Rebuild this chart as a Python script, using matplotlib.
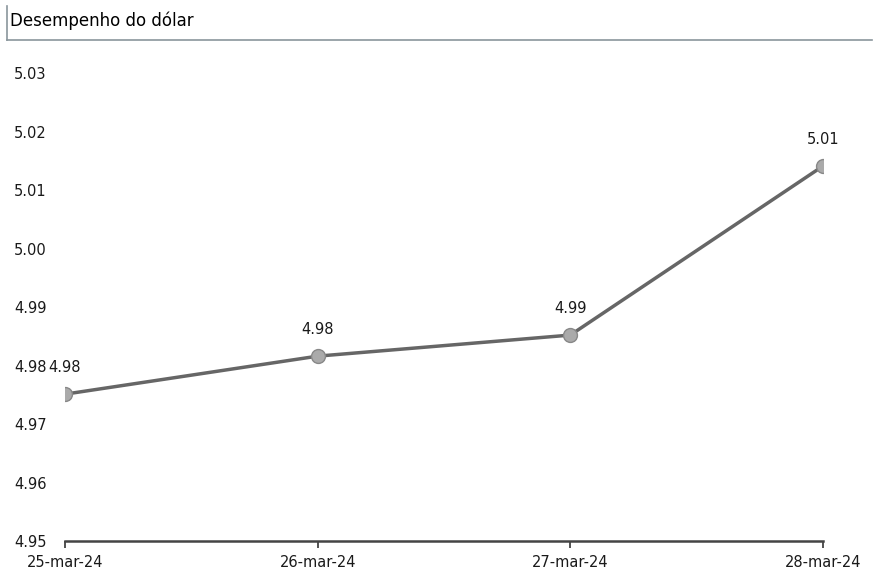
import matplotlib
matplotlib.use("Agg")
import matplotlib.pyplot as plt
from matplotlib.lines import Line2D

dates = ["25-mar-24", "26-mar-24", "27-mar-24", "28-mar-24"]
values = [4.9751, 4.9816, 4.9852, 5.0141]
labels = ["4.98", "4.98", "4.99", "5.01"]
yticks = [4.95, 4.96, 4.97, 4.98, 4.99, 5.00, 5.01, 5.02, 5.03]
title = "Desempenho do dólar"

plt.rcParams['font.family'] = ['DejaVu Sans']

W, H = 873, 571
fig = plt.figure(figsize=(W / 100, H / 100), dpi=100)
ax = fig.add_axes([65 / W, 1 - 541 / H, (823 - 65) / W, (541 - 73) / H])

x = list(range(len(dates)))
ax.plot(x, values, color="#666666", lw=2.5, marker="o", markersize=10,
        markerfacecolor="#aaaaaa", markeredgecolor="#888888", markeredgewidth=1, zorder=3)
for xi, v, lab in zip(x, values, labels):
    ax.annotate(lab, (xi, v), xytext=(0, 14), textcoords="offset points",
                ha="center", va="bottom", fontsize=10.5, color="#1a1a1a")

ax.set_xlim(0, 3)
ax.set_ylim(4.95, 5.03)
ax.set_xticks(x)
ax.set_xticklabels(dates, fontsize=10.5, color="#1a1a1a")
ax.set_yticks(yticks)
ax.set_yticklabels([f"{t:.2f}" for t in yticks], fontsize=10.5, color="#1a1a1a", ha="left")
ax.tick_params(axis="y", length=0, pad=36.7)
ax.tick_params(axis="x", length=5, width=1.2, color="#333333", pad=5)
for s in ["top", "right", "left"]:
    ax.spines[s].set_visible(False)
ax.spines["bottom"].set_color("#444444")
ax.spines["bottom"].set_linewidth(1.8)
ax.patch.set_visible(False)

# Title with border lines
fig.text(10 / W, 1 - 21 / H, title, fontsize=12, color="#000000", ha="left", va="center")
fig.add_artist(Line2D([7 / W, 872 / W], [1 - 40 / H, 1 - 40 / H], color="#8a969c", lw=1.2))
fig.add_artist(Line2D([7 / W, 7 / W], [1 - 6 / H, 1 - 40 / H], color="#8a969c", lw=1.2))

fig.savefig("out.png", dpi=100)
